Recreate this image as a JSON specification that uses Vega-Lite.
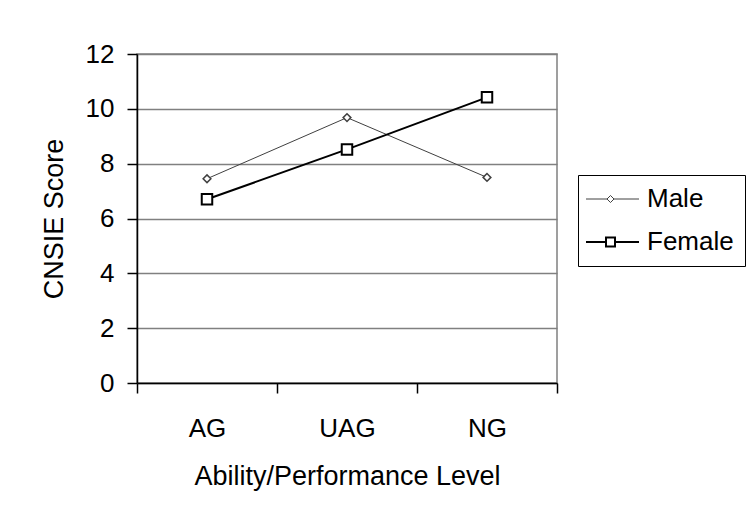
{
  "$schema": "https://vega.github.io/schema/vega-lite/v6.json",
  "width": 420,
  "height": 329,
  "autosize": "none",
  "padding": {"left": 137, "top": 54, "right": 190, "bottom": 130},
  "background": "white",
  "config": {
    "font": "Liberation Sans",
    "view": {"stroke": "#808080", "strokeWidth": 1.5},
    "axis": {
      "labelFont": "Liberation Sans",
      "titleFont": "Liberation Sans",
      "labelColor": "black",
      "titleColor": "black",
      "labelFontSize": 26,
      "titleFontSize": 27,
      "titleFontWeight": "normal",
      "domainColor": "black",
      "domainWidth": 1.5,
      "tickColor": "black",
      "tickWidth": 1.5,
      "tickSize": 10
    }
  },
  "data": {
    "values": [
      {"level": "AG", "gender": "Male", "score": 7.45},
      {"level": "UAG", "gender": "Male", "score": 9.68},
      {"level": "NG", "gender": "Male", "score": 7.5},
      {"level": "AG", "gender": "Female", "score": 6.7},
      {"level": "UAG", "gender": "Female", "score": 8.52},
      {"level": "NG", "gender": "Female", "score": 10.42}
    ]
  },
  "encoding": {
    "x": {
      "field": "level",
      "type": "nominal",
      "sort": ["AG", "UAG", "NG"],
      "scale": {"paddingInner": 0, "paddingOuter": 0},
      "axis": {
        "title": "Ability/Performance Level",
        "labelAngle": 0,
        "tickBand": "extent",
        "labelPadding": 22,
        "titlePadding": 22,
        "grid": false
      }
    },
    "y": {
      "field": "score",
      "type": "quantitative",
      "scale": {"domain": [0, 12], "nice": false},
      "axis": {
        "title": "CNSIE Score",
        "values": [0, 2, 4, 6, 8, 10, 12],
        "labelPadding": 13,
        "titlePadding": 17,
        "grid": true,
        "gridColor": "#808080",
        "gridWidth": 1.5
      }
    }
  },
  "layer": [
    {
      "mark": {"type": "line"},
      "encoding": {
        "color": {
          "field": "gender",
          "type": "nominal",
          "scale": {"domain": ["Male", "Female"], "range": ["#404040", "#000000"]},
          "legend": {
            "title": null,
            "orient": "none",
            "legendX": 441,
            "legendY": 121,
            "padding": 11,
            "strokeColor": "black",
            "fillColor": "white",
            "symbolSize": 400,
            "labelFontSize": 26,
            "labelFont": "Liberation Sans",
            "labelColor": "black",
            "labelOffset": 32,
            "rowPadding": 17,
            "encode": {
              "symbols": {
                "update": {
                  "shape": {"signal": "datum.value === 'Male' ? 'M-1.6,0H0.5M1.2,0H3.7M0.5,0L0.85,-0.35L1.2,0L0.85,0.35Z' : 'M-1.6,0H0.4M1.3,0H3.7M0.4,-0.45H1.3V0.45H0.4Z'"},
                  "stroke": {"signal": "datum.value === 'Male' ? '#404040' : '#000000'"},
                  "strokeWidth": {"signal": "datum.value === 'Male' ? 1 : 1.5"},
                  "fill": {"value": "white"},
                  "fillOpacity": {"value": 1},
                  "opacity": {"value": 1}
                }
              }
            }
          }
        },
        "strokeWidth": {
          "field": "gender",
          "type": "nominal",
          "scale": {"domain": ["Male", "Female"], "range": [1, 2]}
        }
      }
    },
    {
      "transform": [{"filter": "datum.gender === 'Male'"}],
      "mark": {"type": "point", "shape": "diamond", "size": 60, "filled": true, "fill": "white", "stroke": "#404040", "strokeWidth": 1.5, "opacity": 1}
    },
    {
      "transform": [{"filter": "datum.gender === 'Female'"}],
      "mark": {"type": "point", "shape": "square", "size": 110, "filled": true, "fill": "white", "stroke": "#000000", "strokeWidth": 2, "opacity": 1}
    }
  ]
}
